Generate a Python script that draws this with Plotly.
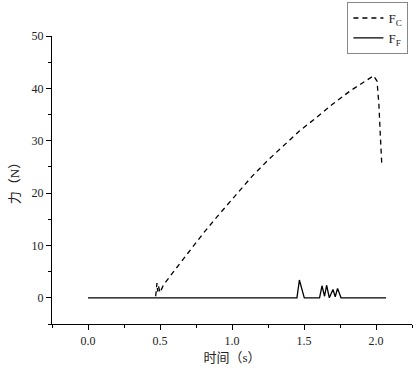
import plotly.graph_objects as go

fc_t = [0.47, 0.479, 0.484, 0.49, 0.50, 0.525, 0.60, 0.70, 0.80, 0.90, 1.00, 1.10, 1.139, 1.25, 1.358,
        1.47, 1.59, 1.70, 1.82, 1.92, 1.983, 2.007, 2.02, 2.03, 2.04, 2.05]
fc_v = [0.3, 2.8, 1.2, 2.2, 1.0, 2.5, 5.2, 8.8, 12.3, 15.6, 18.8, 22.0, 23.2, 26.3, 29.1,
        31.9, 34.5, 37.0, 39.5, 41.3, 42.4, 41.4, 37.0, 31.0, 25.6, 25.5]

ff_t = [0.0, 1.451, 1.468, 1.502, 1.608, 1.625, 1.643, 1.657, 1.676, 1.701, 1.717, 1.733, 1.757, 2.07]
ff_v = [0.0, 0.0, 3.4, 0.0, 0.0, 2.3, 0.3, 2.4, 0.0, 1.6, 0.2, 1.8, 0.0, 0.0]

x_ticks = [0.0, 0.5, 1.0, 1.5, 2.0]
x_labels = ["0.0", "0.5", "1.0", "1.5", "2.0"]
y_ticks = [0, 10, 20, 30, 40, 50]

FONT = "'Liberation Serif', 'DejaVu Serif', 'Noto Sans CJK SC', serif"

fig = go.Figure()
fig.add_trace(go.Scatter(x=fc_t, y=fc_v, mode="lines", name="F<sub>C</sub>",
                         line=dict(color="black", width=1.3, dash="5px,4px")))
fig.add_trace(go.Scatter(x=ff_t, y=ff_v, mode="lines", name="F<sub>F</sub>",
                         line=dict(color="black", width=1.3)))

axis_common = dict(showgrid=False, zeroline=False, showline=True, linecolor="black", linewidth=1.2,
                   ticks="outside", ticklen=5, tickwidth=1, tickcolor="black",
                   tickfont=dict(family=FONT, size=12, color="#222"),
                   mirror=False)

fig.update_xaxes(range=[-0.25, 2.25], tickvals=x_ticks, ticktext=x_labels,
                 minor=dict(dtick=0.25, tick0=0, ticks="outside", ticklen=3, tickcolor="black"),
                 title=dict(text="时间（s）", font=dict(family=FONT, size=13, color="#222"), standoff=6),
                 **axis_common)
fig.update_yaxes(range=[-5, 50], tickvals=y_ticks,
                 minor=dict(dtick=5, tick0=0, ticks="outside", ticklen=3, tickcolor="black"),
                 title=dict(text="力（N）", font=dict(family=FONT, size=13, color="#222"), standoff=8),
                 **axis_common)

fig.update_layout(
    width=415, height=368,
    margin=dict(l=52, r=3, t=35, b=44),
    plot_bgcolor="white", paper_bgcolor="white",
    showlegend=True,
    legend=dict(x=0.99, y=1.114, xanchor="right", yanchor="top",
                bordercolor="#888", borderwidth=1, bgcolor="white",
                font=dict(family=FONT, size=13, color="#222"),
                tracegroupgap=0, itemwidth=30),
)

fig.write_html("out.html", config={"displayModeBar": False},
               post_script="document.body.style.margin='0';")
